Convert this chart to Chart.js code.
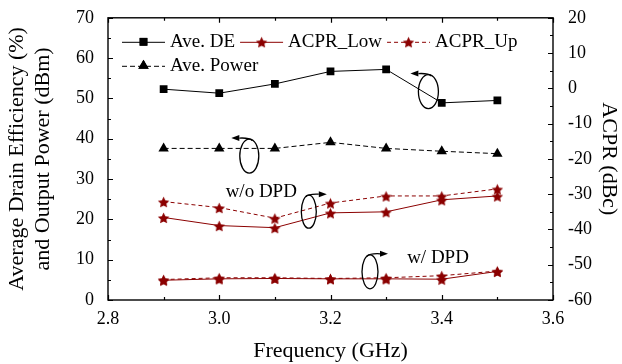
<!DOCTYPE html>
<html>
<head>
<meta charset="utf-8">
<script src="https://cdn.jsdelivr.net/npm/chart.js@4.4.1/dist/chart.umd.min.js"></script>
<style>
  body { margin: 0; background: #fff; }
</style>
</head>
<body>
<canvas id="chart" width="622" height="364"></canvas>
<script>
// data
const freq = [2.9, 3.0, 3.1, 3.2, 3.3, 3.4, 3.5];
const aveDE = [52.3, 51.3, 53.6, 56.7, 57.2, 48.9, 49.5];
const avePower = [37.6, 37.6, 37.6, 39.1, 37.6, 36.9, 36.3];
const acprLowNoDpd = [-36.6, -38.9, -39.5, -35.3, -35.0, -31.6, -30.5];
const acprUpNoDpd = [-32.1, -33.8, -36.8, -32.5, -30.5, -30.5, -28.5];
const acprLowDpd = [-54.4, -54.0, -53.9, -54.0, -54.0, -54.1, -51.9];
const acprUpDpd = [-54.2, -53.7, -53.7, -53.9, -53.7, -53.1, -51.8];

const RED = '#8b0000';
const FONT = "'Liberation Serif', 'Times New Roman', serif";

Chart.defaults.font.family = FONT;
Chart.defaults.color = '#000';

// filled five point star marker
function makeStar(size, color) {
  const c = document.createElement('canvas');
  c.width = size;
  c.height = size;
  const g = c.getContext('2d');
  const r = size / 2;
  g.beginPath();
  for (let i = 0; i < 10; i++) {
    const rad = i % 2 ? r * 0.45 : r - 0.5;
    const a = -Math.PI / 2 + i * Math.PI / 5;
    g.lineTo(r + rad * Math.cos(a), r + 1 + rad * Math.sin(a));
  }
  g.closePath();
  g.fillStyle = color;
  g.fill();
  return c;
}
const star = makeStar(13, RED);

function pts(values) {
  return freq.map((x, i) => ({ x: x, y: values[i] }));
}

function series(label, values, axis, opts) {
  return Object.assign({
    label: label,
    data: pts(values),
    yAxisID: axis,
    borderWidth: 1,
    pointBorderWidth: 0,
    tension: 0
  }, opts);
}

const blackSquare = { borderColor: '#000', backgroundColor: '#000', pointStyle: 'rect', pointRadius: 5.5 };
const blackTri = { borderColor: '#000', backgroundColor: '#000', pointStyle: 'triangle', pointRadius: 6, borderDash: [5, 3] };
const redSolid = { borderColor: RED, backgroundColor: RED, pointStyle: star, pointRadius: 6 };
const redDash = { borderColor: RED, backgroundColor: RED, pointStyle: star, pointRadius: 6, borderDash: [4, 3] };

const datasets = [
  series('Ave. DE', aveDE, 'y', blackSquare),
  series('ACPR_Low', acprLowNoDpd, 'y1', redSolid),
  series('ACPR_Up', acprUpNoDpd, 'y1', redDash),
  series('Ave. Power', avePower, 'y', blackTri),
  series('ACPR_Low w/ DPD', acprLowDpd, 'y1', redSolid),
  series('ACPR_Up w/ DPD', acprUpDpd, 'y1', redDash)
];

// legend rows (dataset indices)
const legendRows = [[0, 1, 2], [3]];

// loops with arrows: position in x / left axis units, arrow direction
const loops = [
  { x: 3.376, y: 51.7, rx: 10, ry: 17, dir: -1 },
  { x: 3.054, y: 35.7, rx: 9.5, ry: 17, dir: -1 },
  { x: 3.161, y: 21.9, rx: 7.5, ry: 16.5, dir: 1 },
  { x: 3.271, y: 7.0, rx: 8, ry: 17, dir: 1 }
];
const notes = [
  { text: 'w/o DPD', x: 3.0115, y: 26.8 },
  { text: 'w/ DPD', x: 3.3378, y: 10.4 }
];

// frame with inward ticks on all four sides
const framePlugin = {
  id: 'frame',
  afterDatasetsDraw(chart) {
    const ctx = chart.ctx;
    const ca = chart.chartArea;
    const xs = chart.scales.x, yl = chart.scales.y, yr = chart.scales.y1;
    ctx.save();
    ctx.strokeStyle = '#000';
    ctx.lineWidth = 1.4;
    ctx.strokeRect(ca.left, ca.top, ca.right - ca.left, ca.bottom - ca.top);
    ctx.lineWidth = 1.2;
    ctx.beginPath();
    for (let v = 28; v <= 36; v++) {
      const px = Math.round(xs.getPixelForValue(v / 10)) + 0.5;
      const len = v % 2 === 0 ? 5 : 3;
      ctx.moveTo(px, ca.bottom); ctx.lineTo(px, ca.bottom - len);
      ctx.moveTo(px, ca.top); ctx.lineTo(px, ca.top + len);
    }
    for (let v = 0; v <= 70; v += 5) {
      const py = Math.round(yl.getPixelForValue(v)) + 0.5;
      ctx.moveTo(ca.left, py); ctx.lineTo(ca.left + (v % 10 === 0 ? 5 : 3), py);
    }
    for (let v = -60; v <= 20; v += 5) {
      const py = Math.round(yr.getPixelForValue(v)) + 0.5;
      ctx.moveTo(ca.right, py); ctx.lineTo(ca.right - (v % 10 === 0 ? 5 : 3), py);
    }
    ctx.stroke();
    ctx.restore();
  }
};

// legend drawn inside the plot
const legendPlugin = {
  id: 'innerLegend',
  afterDraw(chart) {
    const ctx = chart.ctx;
    const ca = chart.chartArea;
    ctx.save();
    ctx.font = '19px ' + FONT;
    ctx.textBaseline = 'middle';
    ctx.fillStyle = '#000';
    legendRows.forEach((row, r) => {
      let x = ca.left + 14;
      const y = ca.top + 24 + r * 24;
      row.forEach(i => {
        const ds = chart.data.datasets[i];
        ctx.save();
        ctx.strokeStyle = ds.borderColor;
        ctx.lineWidth = 1;
        ctx.setLineDash(ds.borderDash || []);
        ctx.beginPath();
        ctx.moveTo(x, y + 0.5);
        ctx.lineTo(x + 43, y + 0.5);
        ctx.stroke();
        ctx.setLineDash([]);
        Chart.helpers.drawPoint(ctx, {
          pointStyle: ds.pointStyle, radius: ds.pointRadius, rotation: 0, borderWidth: 0
        }, x + 21.5, y);
        ctx.fillStyle = ds.backgroundColor;
        ctx.fill();
        ctx.restore();
        ctx.fillText(ds.label, x + 48, y);
        x += 48 + ctx.measureText(ds.label).width + 5;
      });
    });
    ctx.restore();
  }
};

// loops, arrows and notes
const notePlugin = {
  id: 'notes',
  afterDatasetsDraw(chart) {
    const ctx = chart.ctx;
    const xs = chart.scales.x, yl = chart.scales.y;
    ctx.save();
    ctx.strokeStyle = '#000';
    ctx.fillStyle = '#000';
    ctx.lineWidth = 1.3;
    loops.forEach(l => {
      const cx = xs.getPixelForValue(l.x);
      const cy = yl.getPixelForValue(l.y);
      ctx.beginPath();
      ctx.ellipse(cx, cy, l.rx, l.ry, 0, 0, Math.PI * 2);
      ctx.stroke();
      const sx = cx - l.dir * 3, sy = cy - l.ry + 1.5;
      const tx = cx + l.dir * 18, ty = cy - l.ry - 1;
      const bx = tx - l.dir * 8;
      ctx.beginPath();
      ctx.moveTo(sx, sy);
      ctx.quadraticCurveTo(cx, cy - l.ry - 1.5, bx, ty);
      ctx.stroke();
      ctx.beginPath();
      ctx.moveTo(tx, ty);
      ctx.lineTo(bx, ty - 3);
      ctx.lineTo(bx, ty + 3);
      ctx.closePath();
      ctx.fill();
    });
    ctx.font = '19px ' + FONT;
    ctx.textBaseline = 'middle';
    notes.forEach(n => {
      ctx.fillText(n.text, xs.getPixelForValue(n.x), yl.getPixelForValue(n.y));
    });
    ctx.restore();
  }
};

new Chart(document.getElementById('chart'), {
  type: 'line',
  data: { datasets: datasets },
  options: {
    responsive: false,
    animation: false,
    layout: { padding: { top: 15, left: 0, right: 0, bottom: 0 } },
    plugins: {
      legend: { display: false },
      tooltip: { enabled: false }
    },
    scales: {
      x: {
        type: 'linear',
        min: 2.8,
        max: 3.6,
        ticks: { stepSize: 0.2, maxRotation: 0, padding: 0, font: { size: 18 }, callback: v => v.toFixed(1) },
        grid: { display: false },
        border: { display: false },
        title: { display: true, text: 'Frequency (GHz)', font: { size: 22 }, padding: { top: 0, bottom: 0 } },
        afterFit: s => { s.height = 64; }
      },
      y: {
        position: 'left',
        min: 0,
        max: 70,
        ticks: { stepSize: 10, padding: 6, font: { size: 18 } },
        grid: { display: false },
        border: { display: false },
        title: {
          display: true,
          text: ['Average Drain Efficiency (%)', 'and Output Power (dBm)'],
          font: { size: 22 },
          padding: { top: 4, bottom: 0 }
        },
        afterFit: s => { s.width = 108; }
      },
      y1: {
        position: 'right',
        min: -60,
        max: 20,
        ticks: { stepSize: 10, padding: 7, font: { size: 18 } },
        grid: { display: false },
        border: { display: false },
        title: { display: true, text: 'ACPR (dBc)', font: { size: 22 }, padding: { top: 0, bottom: 0 } },
        afterFit: s => { s.width = 69; }
      }
    }
  },
  plugins: [framePlugin, notePlugin, legendPlugin]
});
</script>
</body>
</html>
